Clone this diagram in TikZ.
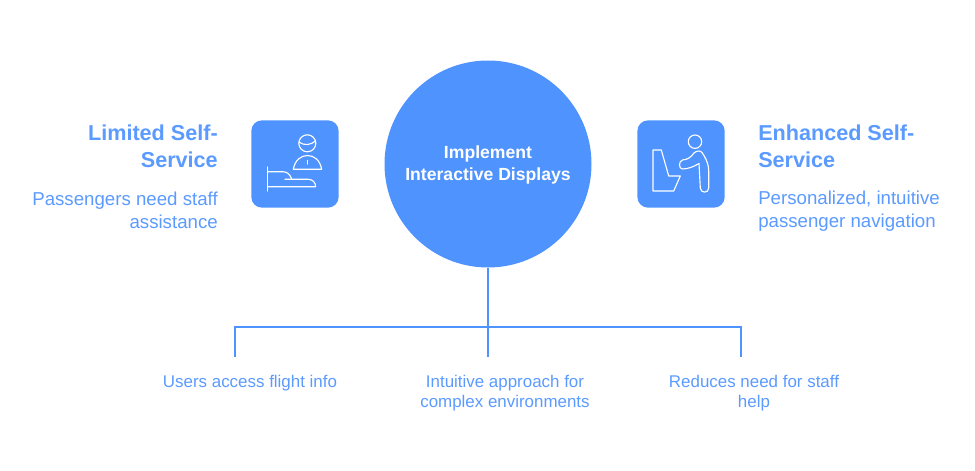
\documentclass[tikz,border=0pt]{standalone}
\usepackage{fontspec}
\setmainfont{Liberation Sans}
\definecolor{mainblue}{HTML}{4F93FF}
\definecolor{textblue}{HTML}{5B9AFF}

\begin{document}
\begin{tikzpicture}
 [x=0.75pt, y=-0.75pt,
  main node/.style={circle, fill=mainblue, minimum size=155.25pt, inner sep=0pt, text depth=1.6pt, text=white, align=center, font=\fontsize{13.2}{16.5}\selectfont\bfseries},
  icon node/.style={node distance=144.8pt, rectangle, rounded corners=8pt, fill=mainblue, minimum size=65.5pt, inner sep=0pt},
  title node/.style={inner sep=0pt, text=textblue, font=\fontsize{16.2}{20.2}\selectfont\bfseries},
  desc node/.style={inner sep=0pt, text=textblue, font=\fontsize{14}{17.2}\selectfont},
  leaf node/.style={inner sep=0pt, text=textblue, align=center, font=\fontsize{12.7}{15}\selectfont},
  link/.style={draw=mainblue, line width=0.85pt},
  glyph/.style={draw=white, line width=0.85pt, line join=round, line cap=round}]

 \useasboundingbox (0,0) rectangle (975,471);

 \node[main node] (impl) at (488,164) {Implement\\Interactive Displays};
 \node[icon node] (limited) [left of=impl] {};
 \node[icon node] (enhanced) [right of=impl] {};

 \node[title node, align=right, anchor=east] (limitedtitle) at (218,146) {Limited Self-\\Service};
 \node[desc node, align=right, anchor=east] (limiteddesc) at (218,210.5) {Passengers need staff\\assistance};
 \node[title node, align=left, anchor=west] (enhancedtitle) at (758,146) {Enhanced Self-\\Service};
 \node[desc node, align=left, anchor=west] (enhanceddesc) at (758,211.5) {Personalized, intuitive\\passenger navigation};

 \node[leaf node] (flight) at (250,383) {Users access flight info};
 \node[leaf node] (approach) at (505,393) {Intuitive approach for\\complex environments};
 \node[leaf node] (reduces) at (754,393) {Reduces need for staff\\help};

 \coordinate (left) at (235,327);
 \coordinate (right) at (741,327);
 \coordinate (leftend) at (235,357);
 \coordinate (midend) at (488,357);
 \coordinate (rightend) at (741,357);

 \path[link]
  (impl) -- (midend)
  (leftend) -- (left) -- (right) -- (rightend);

 % passenger and staff
 \draw[glyph] (307.3,143.3) circle [radius=8.5];
 \draw[glyph] (299,142) .. controls (304,146) and (311,145) .. (315.5,141);
 \draw[glyph] (293.3,169.3) .. controls (295,160) and (301,155.5) .. (307.5,155.5) .. controls (314,155.5) and (320,160) .. (321.7,169.3) -- cycle;
 \draw[glyph] (307.3,160.5) -- (307.3,164);
 \draw[glyph] (267.7,167) -- (267.7,191);
 \draw[glyph] (267.7,171.7) -- (283,171.7) .. controls (287.5,171.7) and (290.5,175) .. (291.7,179.3);
 \draw[glyph] (285,179.3) -- (308.3,179.3) .. controls (312.5,179.3) and (315.7,182.5) .. (315.7,186.7) -- (267.7,186.7);

 % kiosk and user
 \draw[glyph] (695,141.7) circle [radius=6.7];
 \draw[glyph] (653,150) -- (661.3,150) -- (668.7,176) -- (680.3,176) -- (673.7,191) -- (653,191) -- cycle;
 \draw[glyph] (682.5,160) .. controls (678.5,161) and (678.5,169) .. (682.5,169)
  .. controls (688,169) and (694,166.5) .. (699,163.5) -- (700.3,188)
  .. controls (700.5,193.5) and (708.7,193.5) .. (708.7,188) -- (708.7,171)
  .. controls (708.7,163) and (704.5,156) .. (702,152.5)
  .. controls (700,150) and (696,151) .. (694,153)
  .. controls (691,157) and (688,159.5) .. (682.5,160) -- cycle;
\end{tikzpicture}
\end{document}
